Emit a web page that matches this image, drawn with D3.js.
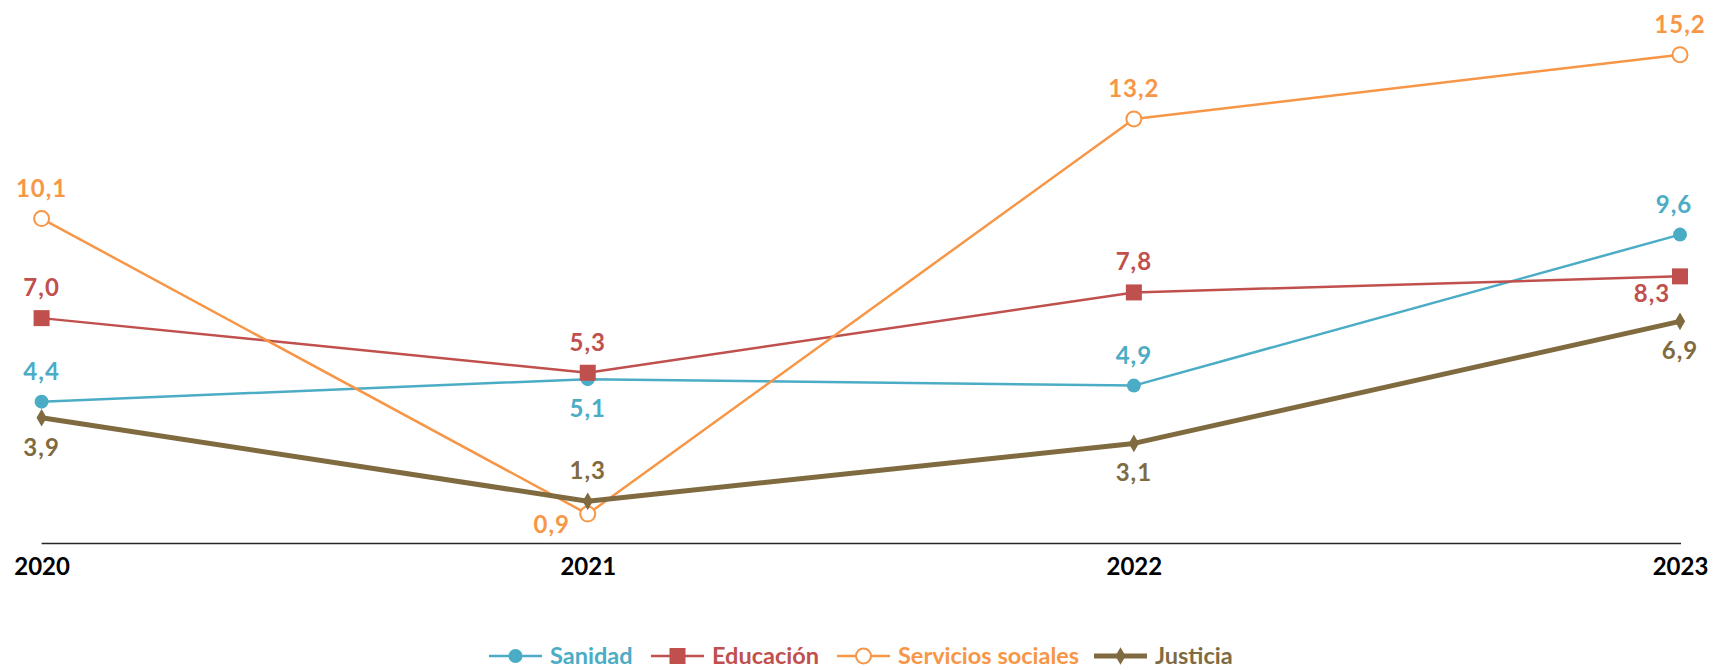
<!DOCTYPE html>
<html><head><meta charset="utf-8">
<script src="https://cdn.jsdelivr.net/npm/d3@7"></script>
<style>
body{margin:0;background:#fff;}
svg{display:block;font-family:Lato,"Noto Sans",sans-serif;}
</style></head><body>
<svg id="c" width="1715" height="670"></svg>
<script>
const years = ["2020","2021","2022","2023"];
const seriesNames = ["Sanidad","Educación","Servicios sociales","Justicia"];
const sanidad = [4.4, 5.1, 4.9, 9.6];
const educacion = [7.0, 5.3, 7.8, 8.3];
const servicios = [10.1, 0.9, 13.2, 15.2];
const justicia = [3.9, 1.3, 3.1, 6.9];
// label placement: t = above, b = below, bl = below-left
const sanidadPlace = ["t","b","t","t"];
const educacionPlace = ["t","t","t","bl"];
const serviciosPlace = ["t","bl","t","t"];
const justiciaPlace = ["b","t","b","b"];

const colors = ["#4bacc6","#c0504d","#f79646","#7f6b3f"];
const widths = [2.5,2.5,2.5,5];
const markers = ["dot","square","ring","diamond"];

const series = [
  {name:seriesNames[0], values:sanidad, place:sanidadPlace},
  {name:seriesNames[1], values:educacion, place:educacionPlace},
  {name:seriesNames[2], values:servicios, place:serviciosPlace},
  {name:seriesNames[3], values:justicia, place:justiciaPlace}
];

const svg = d3.select("#c");
const x = d3.scalePoint().domain(years).range([41.6, 1680]);
const y = d3.scaleLinear().domain([0, 16]).range([543, 29]);

// axis
const ax = svg.append("g").attr("transform","translate(0,543)")
  .call(d3.axisBottom(x).tickSize(0).tickPadding(15));
ax.select(".domain").attr("stroke","#262626").attr("stroke-width",1.6)
  .attr("d","M41.6,0.5H1681");
ax.selectAll("text").attr("font-family","Lato,sans-serif").attr("font-weight","bold")
  .attr("font-size",24).attr("fill","#000").attr("dy","0.71em");

function drawMarker(g, type, color){
  if(type==="dot") g.append("circle").attr("r",7).attr("fill",color);
  else if(type==="square") g.append("rect").attr("x",-8).attr("y",-8).attr("width",16).attr("height",16).attr("fill",color);
  else if(type==="ring") g.append("circle").attr("r",7.5).attr("fill","#fff").attr("stroke",color).attr("stroke-width",2);
  else if(type==="diamond") g.append("path").attr("d",d3.symbol(d3.symbolDiamond, 90)()).attr("fill",color);
}

const line = d3.line().x((d,i)=>x(years[i])).y(d=>y(d));

series.forEach((s,si)=>{
  svg.append("path").attr("d",line(s.values)).attr("fill","none")
    .attr("stroke",colors[si]).attr("stroke-width",widths[si]).attr("stroke-linejoin","round");
});
series.forEach((s,si)=>{
  s.values.forEach((v,i)=>{
    const mg = svg.append("g").attr("transform",`translate(${x(years[i])},${y(v)})`);
    drawMarker(mg, markers[si], colors[si]);
  });
});
series.forEach((s,si)=>{
  s.values.forEach((v,i)=>{
    const p = s.place[i];
    let dx = 0, dy = -22;
    if(p==="b"){dy = 38;}
    if(p==="bl"){
      if(si===1){dx=-28; dy=26;} else {dx=-36; dy=19;}
    }
    if(si===0 && i===3) dx = -6;
    svg.append("text").attr("x",x(years[i])+dx).attr("y",y(v)+dy)
      .attr("text-anchor","middle").attr("font-weight","bold").attr("font-size",24)
      .attr("letter-spacing","1px")
      .attr("fill",colors[si]).text(d3.format(".1f")(v).replace(".",","));
  });
});

// legend
const legX = [489, 651, 837, 1094];
const legY = 656;
series.forEach((s,si)=>{
  const g = svg.append("g").attr("transform",`translate(${legX[si]},${legY})`);
  g.append("line").attr("x1",0).attr("x2",53).attr("y1",0).attr("y2",0)
    .attr("stroke",colors[si]).attr("stroke-width",si===3?5:2.5);
  const mg = g.append("g").attr("transform","translate(26.5,0)");
  drawMarker(mg, markers[si], colors[si]);
  g.append("text").attr("x",61).attr("y",0).attr("dy","0.36em")
    .attr("font-weight","bold").attr("font-size",23.5).attr("fill",colors[si]).text(s.name);
});
</script></body></html>
